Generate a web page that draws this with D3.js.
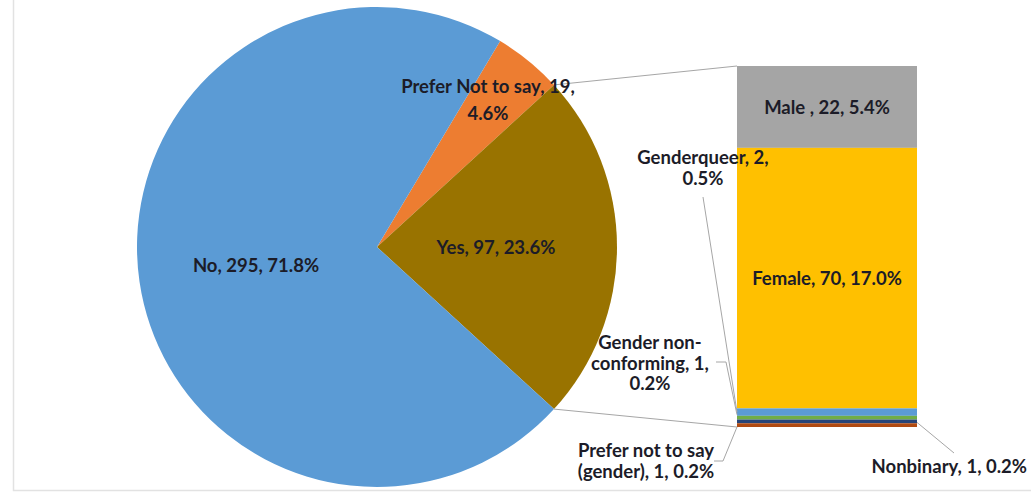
<!DOCTYPE html>
<html>
<head>
<meta charset="utf-8">
<script src="https://cdn.jsdelivr.net/npm/d3@7"></script>
<style>
  html, body { margin: 0; padding: 0; background: #ffffff; }
  svg { display: block; }
  text { font-family: Lato, "Open Sans", sans-serif; font-weight: 700; fill: #1c1c28; }
</style>
</head>
<body>
<svg id="chart" width="1031" height="497"></svg>
<script>
// Main pie: answer to the question
const pieCategories = ["Prefer Not to say", "Yes", "No"];
const pieValues = [19, 97, 295];
const pieColors = ["#ED7D31", "#997300", "#5B9BD5"];

// Secondary bar: breakdown of the "Yes" slice by gender
const barCategories = ["Male ", "Female", "Genderqueer", "Gender non-conforming", "Nonbinary", "Prefer not to say (gender)"];
const barValues = [22, 70, 2, 1, 1, 1];
const barColors = ["#A5A5A5", "#FFC000", "#5B9BD5", "#70AD47", "#264478", "#B04A12"];

const total = d3.sum(pieValues);
const pct = d3.format(".1%");

const svg = d3.select("#chart");

// faint chart-area frame
svg.append("path")
  .attr("d", "M13.5,0 V490.5 H1031")
  .attr("fill", "none")
  .attr("stroke", "#e2e2e2")
  .attr("stroke-width", 1.5);

// ---- pie ----
const cx = 377, cy = 247, R = 240;
const yesIndex = pieCategories.indexOf("Yes");
// rotate so the "Yes" slice is centred on the right-hand side
const before = d3.sum(pieValues.slice(0, yesIndex));
const a0 = Math.PI / 2 - 2 * Math.PI * (before + pieValues[yesIndex] / 2) / total;

const pie = d3.pie().sort(null).startAngle(a0).endAngle(a0 + 2 * Math.PI);
const arcs = pie(pieValues);
const arc = d3.arc().innerRadius(0).outerRadius(R);

const gPie = svg.append("g").attr("transform", `translate(${cx},${cy})`);
gPie.selectAll("path")
  .data(arcs)
  .join("path")
  .attr("d", arc)
  .attr("fill", (d, i) => pieColors[i]);

// ---- stacked bar ----
const barX = 737, barW = 180;
const y = d3.scaleLinear().domain([0, d3.sum(barValues)]).range([66, 427]);
const stacked = [];
let acc = 0;
barValues.forEach((v, i) => { stacked.push({ i, y0: acc, y1: acc + v }); acc += v; });

// connector lines between the "Yes" slice and the bar
const yesArc = arcs[yesIndex];
const onRim = a => [cx + R * Math.sin(a), cy - R * Math.cos(a)];
const p1 = onRim(yesArc.startAngle), p2 = onRim(yesArc.endAngle);
svg.append("g")
  .attr("stroke", "#a6a6a6").attr("stroke-width", 1).attr("fill", "none")
  .selectAll("line")
  .data([[p1, [barX, y(0)]], [p2, [barX, y(d3.sum(barValues))]]])
  .join("line")
  .attr("x1", d => d[0][0]).attr("y1", d => d[0][1])
  .attr("x2", d => d[1][0]).attr("y2", d => d[1][1]);

svg.append("g").selectAll("rect")
  .data(stacked)
  .join("rect")
  .attr("x", barX)
  .attr("width", barW)
  .attr("y", d => y(d.y0))
  .attr("height", d => y(d.y1) - y(d.y0))
  .attr("fill", d => barColors[d.i]);

// ---- labels ----
const fs = 18.5;
function label(lines, x, yTop, lh, anchor = "middle") {
  const t = svg.append("text").attr("text-anchor", anchor).attr("font-size", fs);
  lines.forEach((s, k) => {
    t.append("tspan").attr("x", x).attr("y", yTop + k * lh).attr("dominant-baseline", "central").text(s);
  });
}
const pieText = i => `${pieCategories[i]}, ${pieValues[i]}, ${pct(pieValues[i] / total)}`;
const barText = i => `${barCategories[i]}, ${barValues[i]}, ${pct(barValues[i] / total)}`;

// pie labels
label([`${pieCategories[0]}, ${pieValues[0]},`, pct(pieValues[0] / total)], cx + 111, 86, 27);
label([pieText(1)], cx + 119, 247, 20);
label([pieText(2)], cx - 121, 265, 20);

// bar labels inside the large segments
const segMid = i => (y(stacked[i].y0) + y(stacked[i].y1)) / 2;
label([barText(0)], barX + barW / 2, segMid(0), 20);
label([barText(1)], barX + barW / 2, segMid(1), 20);

// small segments: outside labels with leader lines
label([`${barCategories[2]}, ${barValues[2]},`, pct(barValues[2] / total)], 703, 157, 21);
label(["Gender non-", `conforming, ${barValues[3]},`, pct(barValues[3] / total)], 650, 342, 20.5);
label([`${barCategories[4]}, ${barValues[4]}, ${pct(barValues[4] / total)}`], 1027, 466, 20, "end");
label(["Prefer not to say", `(gender), ${barValues[5]}, ${pct(barValues[5] / total)}`], 646, 450, 20.5);

const leaders = [
  [[703, 197], [barX, segMid(2)]],
  [[716, 362], [726, 362], [barX, segMid(3) - 3]],
  [[954, 453], [barX + barW, segMid(4) + 1]],
  [[714, 461], [723, 461], [barX, y(d3.sum(barValues))]]
];
svg.append("g")
  .attr("fill", "none").attr("stroke", "#a6a6a6").attr("stroke-width", 1)
  .selectAll("path")
  .data(leaders)
  .join("path")
  .attr("d", d => d3.line()(d));
</script>
</body>
</html>
